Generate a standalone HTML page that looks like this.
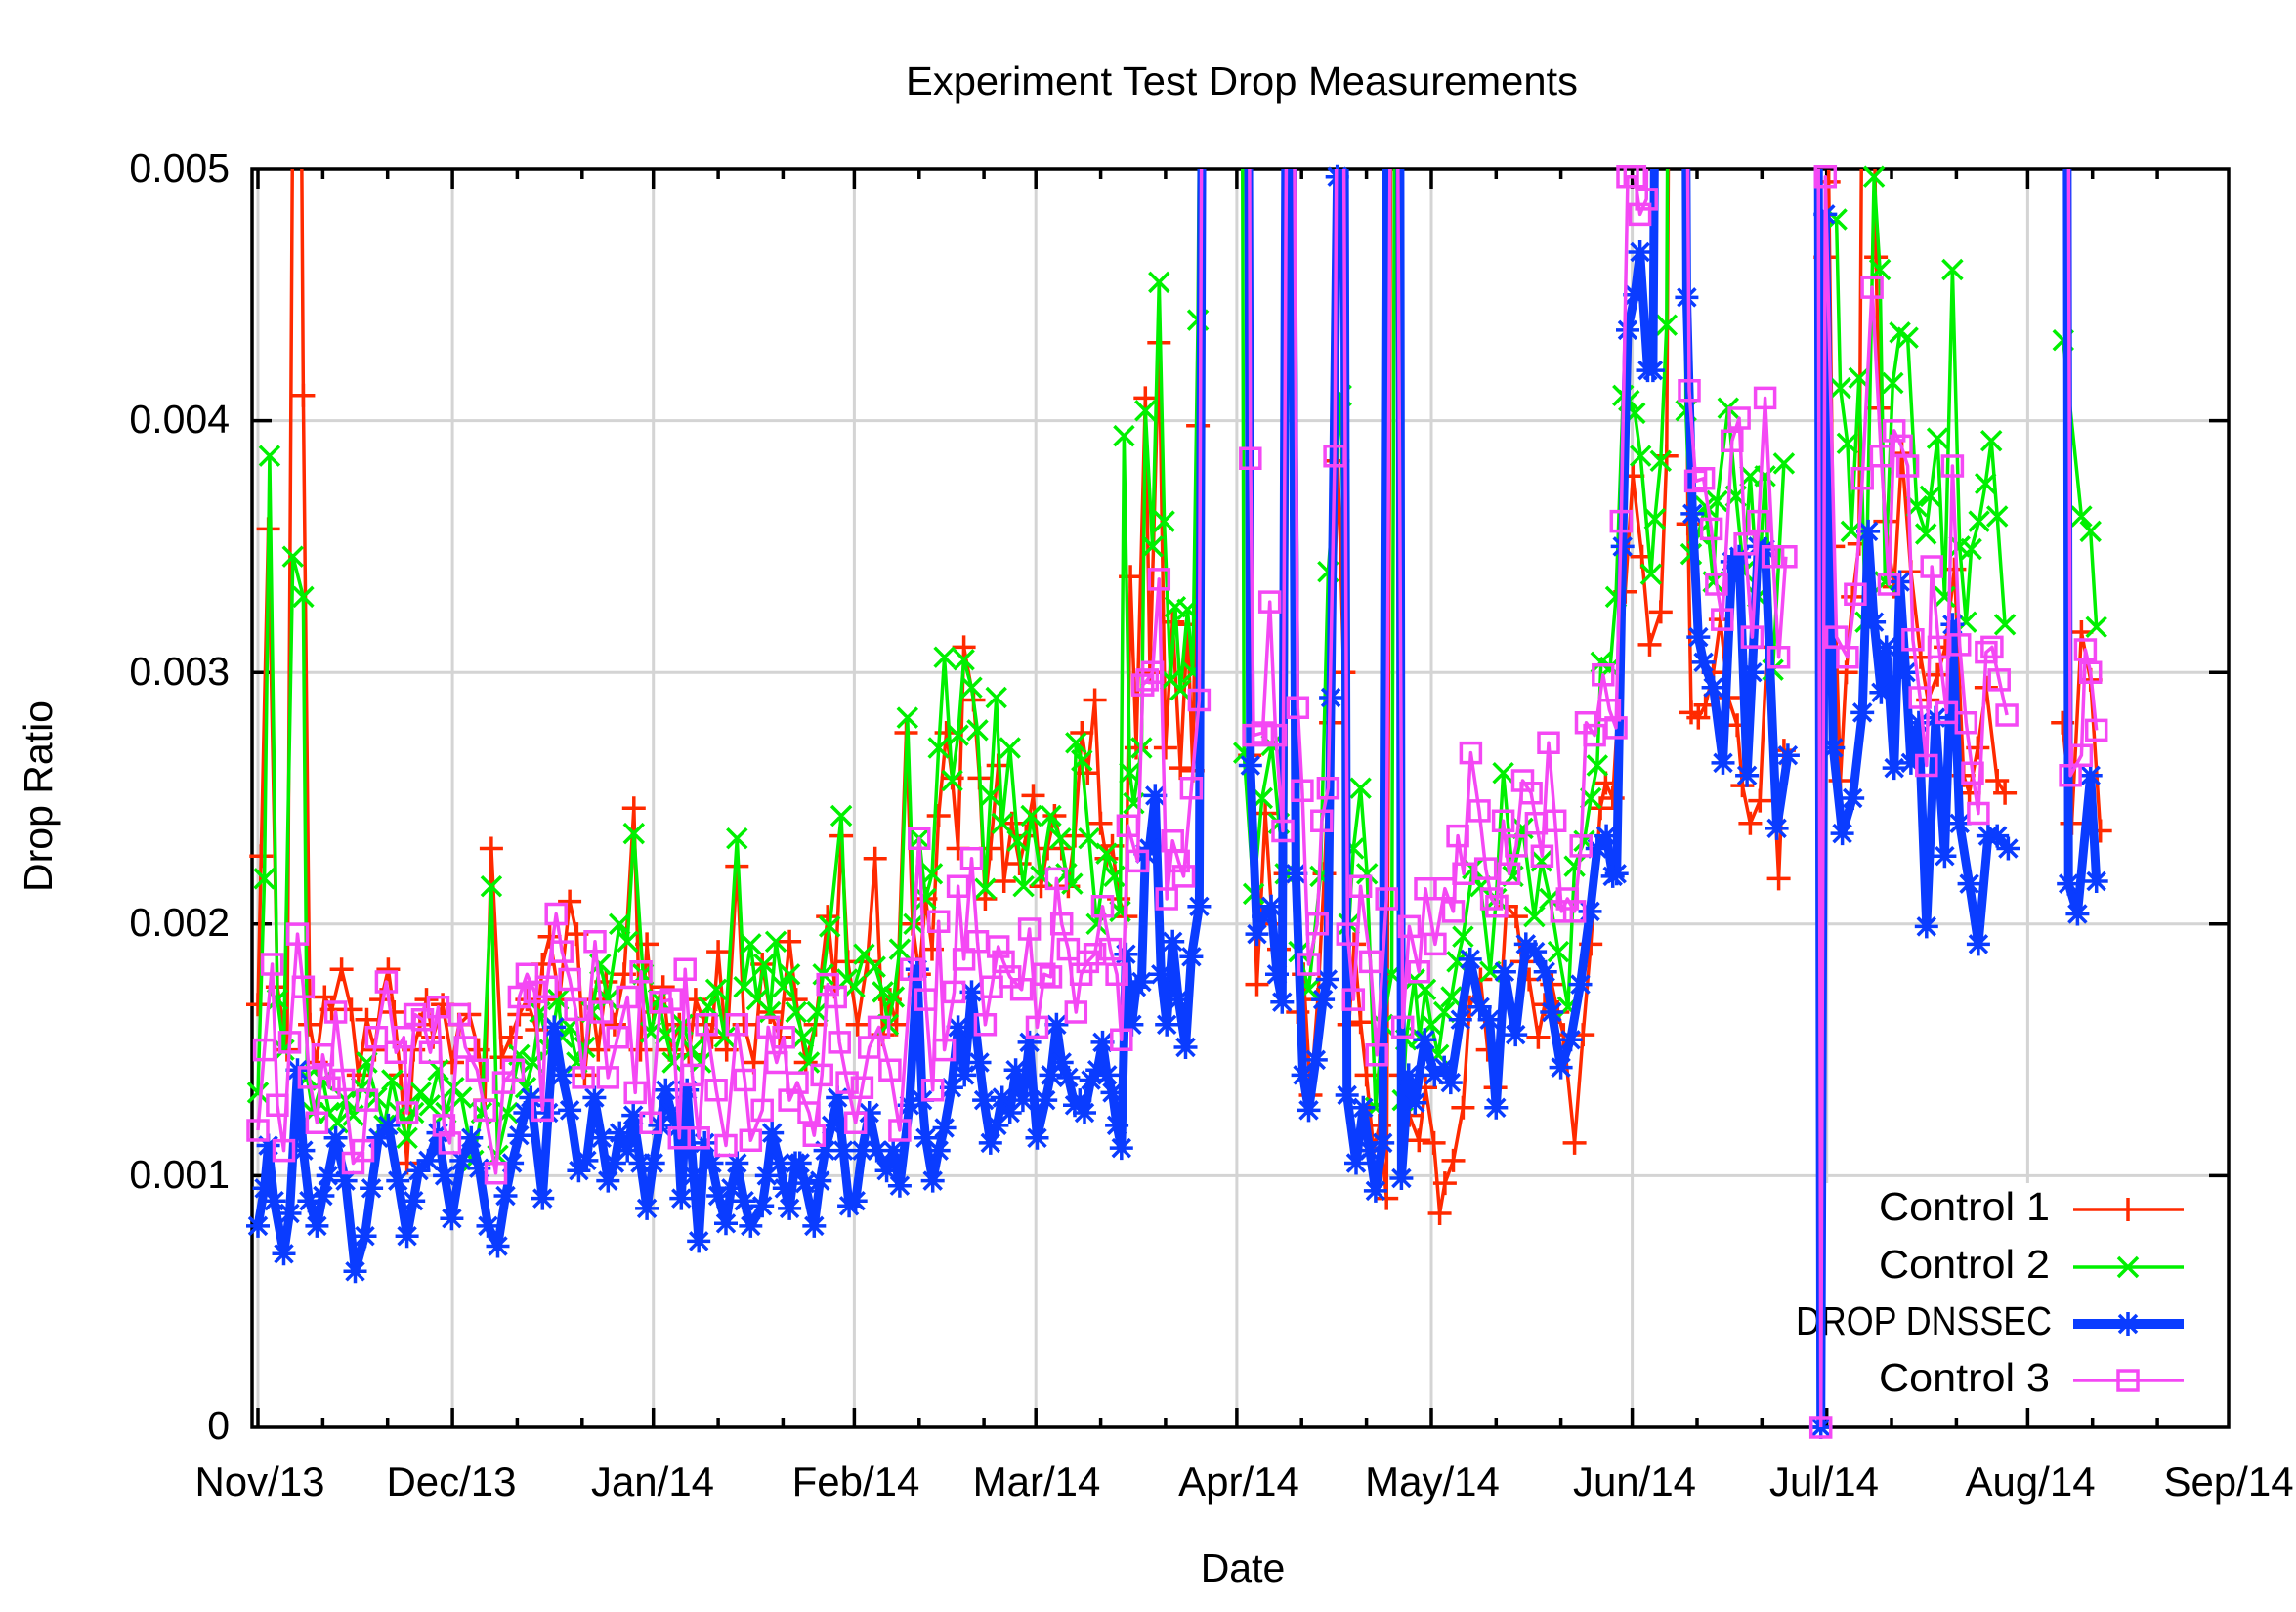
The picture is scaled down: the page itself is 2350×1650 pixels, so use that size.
<!DOCTYPE html>
<html>
<head>
<meta charset="utf-8">
<style>
html,body{margin:0;padding:0;background:#fff;}
svg{display:block;}
text{font-family:"Liberation Sans",Arial,sans-serif;fill:#000;}
</style>
</head>
<body>
<svg id="plot" xmlns="http://www.w3.org/2000/svg" width="2350" height="1650" viewBox="0 0 2350 1650">
<rect x="0" y="0" width="2350" height="1650" fill="#fff"/>
<defs>
<clipPath id="clip"><rect x="258" y="173" width="2023" height="1288"/></clipPath>
</defs>
<!-- grid -->
<g stroke="#d4d4d4" stroke-width="3" fill="none">
<path d="M264 193V1441 M463.1 193V1441 M668.7 193V1441 M874.4 193V1441 M1060.2 193V1441 M1265.9 193V1441 M1465 193V1441 M1670.6 193V1441 M1869.7 193V1441 M2075.4 193V1441"/>
<path d="M278 430.6H2261 M278 688.2H2261 M278 945.8H2261 M278 1203.4H2261"/>
</g>
<!-- legend background -->
<rect x="1822" y="1211" width="440" height="231" fill="#fff"/>
<!-- border -->
<rect x="258" y="173" width="2023" height="1288" fill="none" stroke="#000" stroke-width="3.5"/>
<!-- ticks -->
<g stroke="#000" stroke-width="3.5" fill="none">
<path d="M264 1461V1441 M463.1 1461V1441 M668.7 1461V1441 M874.4 1461V1441 M1060.2 1461V1441 M1265.9 1461V1441 M1465 1461V1441 M1670.6 1461V1441 M1869.7 1461V1441 M2075.4 1461V1441
M264 173V193 M463.1 173V193 M668.7 173V193 M874.4 173V193 M1060.2 173V193 M1265.9 173V193 M1465 173V193 M1670.6 173V193 M1869.7 173V193 M2075.4 173V193"/>
<path d="M330.4 1461V1451 M396.7 1461V1451 M529.4 1461V1451 M595.8 1461V1451 M735.1 1461V1451 M801.4 1461V1451 M940.8 1461V1451 M1007.1 1461V1451 M1126.6 1461V1451 M1192.9 1461V1451 M1332.2 1461V1451 M1398.6 1461V1451 M1531.3 1461V1451 M1597.6 1461V1451 M1737 1461V1451 M1803.3 1461V1451 M1936 1461V1451 M2002.4 1461V1451 M2141.7 1461V1451 M2208.1 1461V1451
M330.4 173V183 M396.7 173V183 M529.4 173V183 M595.8 173V183 M735.1 173V183 M801.4 173V183 M940.8 173V183 M1007.1 173V183 M1126.6 173V183 M1192.9 173V183 M1332.2 173V183 M1398.6 173V183 M1531.3 173V183 M1597.6 173V183 M1737 173V183 M1803.3 173V183 M1936 173V183 M2002.4 173V183 M2141.7 173V183 M2208.1 173V183"/>
<path d="M258 430.6H278 M258 688.2H278 M258 945.8H278 M258 1203.4H278 M2281 430.6H2261 M2281 688.2H2261 M2281 945.8H2261 M2281 1203.4H2261"/>
</g>
<!-- y tick labels -->
<g font-size="41" text-anchor="end">
<text x="235" y="186">0.005</text>
<text x="235" y="443">0.004</text>
<text x="235" y="701">0.003</text>
<text x="235" y="958">0.002</text>
<text x="235" y="1216">0.001</text>
<text x="235" y="1473">0</text>
</g>
<!-- x tick labels -->
<g font-size="42" text-anchor="middle">
<text x="266" y="1531">Nov/13</text>
<text x="462" y="1531">Dec/13</text>
<text x="668" y="1531">Jan/14</text>
<text x="876" y="1531">Feb/14</text>
<text x="1061" y="1531">Mar/14</text>
<text x="1268" y="1531">Apr/14</text>
<text x="1466" y="1531">May/14</text>
<text x="1673" y="1531">Jun/14</text>
<text x="1867" y="1531">Jul/14</text>
<text x="2078" y="1531">Aug/14</text>
<text x="2281" y="1531">Sep/14</text>
</g>
<!-- titles -->
<text x="1271" y="97" font-size="41" text-anchor="middle" textLength="688" lengthAdjust="spacingAndGlyphs">Experiment Test Drop Measurements</text>
<text x="1272" y="1619" font-size="41" text-anchor="middle">Date</text>
<text transform="translate(53,815) rotate(-90)" font-size="41" text-anchor="middle">Drop Ratio</text>
<!-- legend -->
<g font-size="41" text-anchor="end">
<text x="2098" y="1249" textLength="175" lengthAdjust="spacingAndGlyphs">Control 1</text>
<text x="2098" y="1308" textLength="175" lengthAdjust="spacingAndGlyphs">Control 2</text>
<text x="2100" y="1366" textLength="262" lengthAdjust="spacingAndGlyphs">DROP DNSSEC</text>
<text x="2098" y="1424" textLength="175" lengthAdjust="spacingAndGlyphs">Control 3</text>
</g>
<g fill="none">
<path d="M2122 1238H2235" stroke="#ff2a00" stroke-width="3.5"/>
<path d="M2178 1226V1250" stroke="#ff2a00" stroke-width="3.5"/>
<path d="M2122 1297H2235" stroke="#00f000" stroke-width="3.5"/>
<path d="M2168 1287L2188 1307M2168 1307L2188 1287" stroke="#00f000" stroke-width="3.5"/>
<path d="M2122 1355H2235" stroke="#0a3cff" stroke-width="10"/>
<path d="M2166 1355H2190M2178 1343V1367M2169 1346L2187 1364M2169 1364L2187 1346" stroke="#0a3cff" stroke-width="3.5"/>
<path d="M2122 1413H2235" stroke="#f448f4" stroke-width="3.5"/>
<rect x="2168" y="1403" width="20" height="20" stroke="#f448f4" stroke-width="3.5"/>
</g>
<g id="data"></g>
</svg>
<script>
(function(){
var NS='http://www.w3.org/2000/svg';
var G=document.getElementById('data');
function X(d){return 264+6.635*d;}
function Y(v){return 1461-25.76*v;}
function f(n){return n.toFixed(1);}
function plus(x,y){var a=12;return 'M'+f(x-a)+' '+f(y)+'H'+f(x+a)+'M'+f(x)+' '+f(y-a)+'V'+f(y+a);}
function cross(x,y){var a=10;return 'M'+f(x-a)+' '+f(y-a)+'L'+f(x+a)+' '+f(y+a)+'M'+f(x-a)+' '+f(y+a)+'L'+f(x+a)+' '+f(y-a);}
function star(x,y){var a=9;return plus(x,y)+'M'+f(x-a)+' '+f(y-a)+'L'+f(x+a)+' '+f(y+a)+'M'+f(x-a)+' '+f(y+a)+'L'+f(x+a)+' '+f(y-a);}
function square(x,y){var a=10;return 'M'+f(x-a)+' '+f(y-a)+'h20v20h-20Z';}
function series(segs,color,lw,mk){
  var d='';
  segs.forEach(function(s){for(var i=0;i<s.length;i+=2){d+=(i?'L':'M')+f(X(s[i]))+' '+f(Y(s[i+1]));}});
  var p=document.createElementNS(NS,'path');
  p.setAttribute('d',d);p.setAttribute('fill','none');p.setAttribute('stroke',color);
  p.setAttribute('stroke-width',lw);p.setAttribute('stroke-linejoin','round');
  p.setAttribute('clip-path','url(#clip)');
  G.appendChild(p);
  var m='';
  segs.forEach(function(s){for(var i=0;i<s.length;i+=2){var v=s[i+1];if(v<0||v>50.3)continue;m+=mk(X(s[i]),Y(v));}});
  var q=document.createElementNS(NS,'path');
  q.setAttribute('d',m);q.setAttribute('fill','none');q.setAttribute('stroke',color);q.setAttribute('stroke-width','3.5');
  G.appendChild(q);
}
var red=[[0,16.8,0.5,22.7,1.6,35.7,3,17.5,4.5,15,6,80,7,41,8,16,9,14.5,10.3,17.1,11.4,16.6,12.9,18.2,14.4,16.6,15.5,14,16.8,16.2,18,15,19,17,20.1,18.2,21,16.5,22,14,23,10.5,24,15,25,16,26,17,27,15.5,28.5,16.8,30,14.5,31,16,32.6,16.4,34,15,35,13,36,23,37.6,14.7,39,15.5,40.3,16.4,41.5,17,43,15.8,43.9,18.4,45,19.5,46.5,17,48.1,20.9,49.2,19.6,50.4,14,51.5,17,52.5,15,53.7,17.7,55,16,56.5,18,58,24.6,59,15,60,19.2,61,16.5,62.5,17.5,63.5,15,65,16,66.5,14.8,67.5,17,69,16,70,15.5,71,18.9,72.3,15,73.9,22.3,75,16,76.5,14.5,77.8,18.4,79,16.5,80.5,15.5,82,19.3,83,17,84.5,14.5,86,16,87.9,20.3,89,17.5,90,23.5,91,18.5,92.5,16,94,18.5,95.2,22.6,96.4,15.6,97.5,17,98.5,16,100,27.6,101,20,102,18,103,21,104,19,105,24.3,106.2,27.6,107.1,25.8,108,23,108.9,31,110.4,28.9,111.3,25.8,112.2,21,113,23,114.2,26.3,115.1,21.7,116.3,24,117.5,22.4,118.5,23.5,119.6,25.1,120.8,21.5,121.8,23,122.9,24.3,124,23,125,21.5,126,23.5,127.1,27.6,128,26,129.1,28.9,130,24,130.9,22.6,131.8,23.1,132.8,21,133.9,20.3,134.6,33.8,135.5,27,136.9,40.9,137.6,30,139,43.1,140,27,141.1,32,142.3,26.2,143.4,31.9,144.2,26.1,145,39.8,146,80,152.4,80,153,26.7,154.1,17.6,155.4,24.4,156.5,20,157.5,19,158.5,22,159.3,80,160.4,16.5,161.3,18,162.4,13.2,163.5,17,164.5,22,165.5,28,166.6,38.4,167.5,30,168.3,16,169.1,19.2,170.1,16.1,171,14,172.1,11,173,12,174.1,9.1,175.2,80,176.3,14,177.6,12.4,179.1,11.4,180.1,13.5,181.4,11.3,182.3,8.5,183.1,9.7,184.4,10.6,185.9,12.7,186.9,16.7,188.6,17.8,189.7,15,190.9,13.5,192.6,20.7,194.1,20.3,195,18.5,196.1,17.8,197.5,15.5,198.5,16.8,199.6,17.6,200.5,16.5,201.4,15.6,203.1,11.3,204.4,15.6,205.6,19.2,207.1,24.6,207.9,25.6,209,25,210.9,33.2,212.1,37.8,213.5,34.6,214.7,31.1,216.4,32.4,217.3,38.6,218.2,80,219.6,80,220.6,35.9,221.1,28.4,222.2,28.2,223.3,28.7,224.5,30,225.6,32.1,226.8,29,228.2,27.9,229,25.5,230.2,24,231.7,24.9,232.8,31,234.6,21.8,235.4,26.9],
[241.8,46.5,242.3,49.5,243,35,244.1,25.7,245,30,246,33,247,35.1,248.1,80,249.6,46.5,250.1,40.5,251,36,252.4,33.4,253.6,38.7,255,34,256.5,30.6,257.6,28.9,259.1,29.9,260.3,31,261.7,34.1,263.1,25.9,264,25.2,265.3,27,266.6,29.4,268.3,25.7,269.5,25.2],
[278.4,28,279.8,24,281.3,31.6,282.7,29.7,284.2,23.7]];
var green=[[0,13.3,1,21.8,1.8,38.6,3,17,4,15,5.4,34.6,7,33,7.6,13.9,8.5,12.5,10,13.8,11,12.5,12.3,12.1,13.5,13,14.7,12.4,16,13.5,16.8,14.5,18.3,13.1,19.5,12,20.7,13.8,21.8,12.5,23,11.5,24,12.5,25.1,13.3,26.5,12.8,27.8,14.2,29,12.5,30.2,13.5,31.4,13.1,33.2,10.6,34.5,12.5,36,21.5,37,10.8,38.5,12.5,40.3,14.8,41.3,13.5,42.4,14.5,43.5,16.5,45,15,46.3,17,47,15.5,48.1,15.9,49.2,14.5,50.4,15.1,51.5,16.5,52.8,18.4,54,17,55.8,20,57,19.3,58,23.6,59.4,18,60.6,15.7,61.8,17,62.9,15.6,64,14.5,65.5,16,67,15,68.3,14.5,69.5,16.7,70.7,17.4,72,15.5,73.9,23.4,75,17.5,76,19.2,77,17,78.1,18.4,79,16.5,79.9,19.3,81,17.5,82,18,83,16.5,84.1,15.5,85,14.5,86.3,16.5,87.2,18,88.2,19.9,90,24.3,90.9,17.8,92,17.5,93.5,18.8,95.2,18.3,96.4,17.3,97.2,16,98.1,17.1,99,19,100.2,28.2,101.2,20,102,23.4,103,21,104,22,105,27,105.9,30.6,107.1,25.7,108,27.5,108.9,30.5,110.1,29.4,111,27.7,112.2,21.4,113,25.1,113.9,29,114.8,24,116,27,117.2,23.3,118.1,21.5,119.3,24.3,120.8,21.9,122.3,24.3,123.8,23.4,124.7,22,125.6,21.6,126.2,27.2,127.1,26.5,128.2,23.4,129.4,20,130.9,22.8,132.1,21.9,133,20.5,133.6,39.4,134.5,26,135.1,24.8,136.3,27,136.9,40.4,138,35,139,45.5,139.8,36,140.8,29.7,141.5,32.6,142.3,29.3,143.4,32.5,144.2,30,145,44,146,80,151.6,80,152.1,26.8,153.6,21.2,154.9,25,156.4,27.1,157.5,24,158.5,22,159.3,80,160.6,18.9,162.1,17.4,163.9,21.9,165.1,34,167.1,41,168.3,20,169,23,170.1,25.4,171.1,22,172.4,12.7,173.5,16,174.9,18,175.7,80,176.6,13,177.1,15.4,178.4,17.8,179.2,15.5,180.1,17.4,181,16,182.1,14.8,183,16.5,184.1,17.1,185,18.5,185.9,19.5,187.4,22.2,188.6,21.5,190.1,18.1,191,21,192.1,26,193.6,21.9,195.1,23.8,196.9,20.3,198,22.5,199.3,21,200.6,18.9,202.1,16.7,203.1,22.3,204.6,23.3,205.6,25,206.6,26.3,207.2,30.4,208.6,30.2,209.5,33,210.6,41,211.5,40.8,212.4,40.3,213.3,38.6,214.9,33.9,215.5,36.1,216.4,38.4,217.3,43.8,218,80,219.8,80,220.3,40.4,221.1,34.7,222.2,35.5,223.3,36.6,224.5,33.6,225.1,36.8,226.8,40.5,228,37,229.2,34,230.2,37.8,231.4,33,232.5,37.8,233.7,30.1,235.4,38.3],
[243.5,48,244.1,41.3,245.2,39.1,245.8,35.6,247,41.7,248,32,249.3,49.7,250.2,46,251,33.6,252.2,41.5,253.3,43.5,254.5,43.3,255.9,36.6,257.3,35.5,258,37,259.1,39.3,260.2,33,261.4,46,262.5,35,263.5,32,264.3,34.9,265.5,36,266.5,37.5,267.4,39.2,268.3,36.2,269.5,31.9],
[278.5,43.2,281.3,36.2,282.7,35.6,283.6,31.8]];
var blue=[[0,8,1,9.5,1.6,11.2,2.5,9,4,6.9,4.9,8.5,6.1,14.2,7,11,7.9,9,9.1,8,10,9.2,10.8,10,12,11.5,13.5,9.8,15,6.2,16.5,7.6,17.5,9.5,18.6,11.5,20.1,12,21.6,9.8,23,7.6,24,9,24.8,10.2,26.3,10.6,27.8,11.7,28.8,10,29.9,8.3,31.4,10.6,32.9,11.5,34.1,10.3,35.5,8,37,7.2,38.2,9.2,39.2,10.5,40.3,11.6,41.2,12.5,42.1,13.1,43.9,9.1,44.8,12.5,45.7,15.9,46.9,14,48.1,12.6,49.5,10.2,50.7,10.6,51.9,13.1,53,11.5,54,9.8,55,10.5,55.8,11.7,57,11,57.9,12.4,59,10.5,60,8.7,61,10.5,62,12,62.9,13.4,63.8,12.5,64.7,11.9,65.3,9.1,66.2,13.4,67.2,10,68,7.4,68.9,11.3,70,10.5,71,9.2,72.2,8.1,73,9.5,73.9,10.5,75,9,76,8,77.8,8.8,78.5,10,79.3,11.7,80.5,10.5,81.2,9.5,82,8.7,82.9,10.5,83.6,10.5,84.4,9.7,85.8,8,86.7,9.8,87.5,11,88.5,12,89.4,13.1,90.3,11,91.2,8.8,92.2,9,93.2,11,94.3,12.5,95.5,11,97,10.2,98,11,99,9.6,100.5,12.8,101.7,18.2,102.5,13,103,11.5,104.1,9.8,105,11,105.9,11.9,107,13.5,108,15.9,109,14,110.1,17.3,111.3,14.5,112,13,113,11.3,114,12,114.8,13.1,116,12.5,116.9,14.2,118,13,119,15.3,120.2,11.5,121.5,13,122.3,14,123.2,16,124,14.5,125,13.9,126,12.8,126.8,13,127.5,12.5,128.5,13.8,129.5,14.2,130.3,15.3,131,14,131.8,13.3,132.5,12,133.2,11.1,133.9,18.8,134.8,16,135.5,17.5,136.3,17.7,136.9,22.8,137.5,23,138.4,25.1,139.3,18,140.2,16,141.1,19.3,142,17,143.1,15.1,144,18.7,145.2,20.7,146,80,152.5,80,153.1,26.3,154.1,19.6,155.1,20.3,156.3,20.7,157.2,18,158,16.9,159,80,160.1,22,161.2,14,162.1,12.6,163.2,14.6,164.3,17,165,17.8,165.5,29,166.5,49.7,167.3,80,168,13.2,169.4,10.5,170.5,12.7,171.5,11,172.4,9.4,173.5,11.3,174.5,80,176,80,176.4,9.9,177.5,14,178.5,12.9,180,15.4,181.5,14,183,14.3,184,13.7,185.5,16.2,187,18.6,188.5,16.7,190,16.2,191,12.7,192.3,18.1,194,15.6,195.6,19.2,197,18.9,198.6,18.1,199.6,16.5,201,14.3,202.5,15.4,204,17.6,205.5,20.5,206.6,23,208,23.5,209,21.9,209.6,22,210.5,35,211.3,43.6,212.4,45,213.2,46.7,214.4,42,215.2,42,216.2,80,219.8,80,220.4,44.9,221.3,36.3,222.2,31.4,223,30.4,224.5,29.4,226,26.4,227.4,34.4,228.5,34.6,229.7,25.9,230.5,30,231.4,35,232.5,34.9,234.3,23.8,236,26.7],
[240.5,80,241.1,0,241.8,48.2,243,27,244.4,23.6,246,25,247.5,28.4,248.4,35.6,249.3,32,250.4,29.2,251.2,31,252.4,26.2,253.3,33.6,254.2,30,255,26.4,256.2,28,257.4,19.9,258.8,28.2,260.2,22.7,261.4,31.9,262.5,24,264,21.6,265.4,19.2,266.9,23.5,268.3,23.5,270,23],
[278.9,80,279.3,21.6,280.7,20.4,282.7,25.9,283.6,21.7]];
var pink=[[0,11.8,1,15,2.2,18.4,3,12.8,4,11,4.9,15.3,6.1,19.6,7,17.5,7.9,13.9,9.1,12.1,10,14.8,11,13.5,12,16.5,13.2,13.8,14.7,10.5,16.2,11,16.8,13,18.3,15.5,19.8,17.7,21.3,14.9,22.5,15.5,23,12.5,24.2,16.4,25.4,16.2,26.6,14.9,27.8,16.7,28.7,12,29.6,11.3,31.1,16.4,32,15.1,33.8,14.2,35,12.6,36.7,10.1,37.9,13.7,39.4,14.2,40.3,17.1,41.5,18,42.7,17.3,43.9,12.6,44.5,17.5,46,20.4,46.9,18.9,48.1,17.8,49,16.6,50.2,13.9,52,19.3,53,16.5,54,13.9,55.5,15.5,57,17.1,58.2,13.3,59.1,18.1,60.6,12.1,62.1,16.9,63.8,17,65,11.5,65.9,18.2,67,14,68,11.5,69.2,16,70.7,13.4,72.2,11.2,73.9,16,75.1,13.8,76,11.4,77.8,12.6,78.7,15.9,80,14.5,81.1,15.5,82,13,83.2,13.7,85,12.5,85.8,11.6,87,14,87.9,17.6,89.1,17.1,89.7,15.3,90.9,13.7,92.2,12.1,93.2,13.5,94.3,15.1,95.8,15.9,97.5,14.2,99,11.8,100.8,18.2,102,23.4,103,17,104.1,13.4,105,20.1,105.9,15,107.4,17.3,108,21.5,108.9,18.6,110.1,22.6,111,19.3,112.2,16,113.2,17.5,114.2,19.1,115,18.5,116,17.9,117.8,17.4,119,19.8,120.2,15.9,121.3,18,122.3,17.9,123.2,21.8,124,20,125,19,126.2,16.5,127,18,128,18.5,129.1,18.8,130.3,20.7,131.5,19,132.5,18,133.2,15.4,134.2,23.9,135.7,22.5,136.5,29.5,137.2,29.7,138,30,139,33.7,140.2,21,141.1,23.3,142,22.5,142.8,21.9,144,25.4,145.2,28.9,146,80,152.6,80,153.1,38.5,153.6,27.5,155,27.6,156.1,32.8,157,27.5,158.1,23.7,159.2,80,160.4,28.6,161.1,25.3,162.1,18.4,163.4,20,164.1,24.1,165.1,25.4,166.1,38.6,167,80,168.1,19.6,169,17,170.1,21.5,171.6,18.5,172.6,14.8,174.1,21,175.2,80,176.6,15.9,177.6,19.9,179.1,18.1,180.1,21.4,181.6,19.2,183.1,21.4,184.4,20.5,185.1,23.5,186,22,187.1,26.8,188.4,24.5,189.4,22.2,190.3,21,191.1,20.7,192.1,24.1,193,22,194.1,23.1,195.1,25.7,196.4,25.2,197.2,24,198.1,22.7,199.1,27.2,200.1,24.1,201.1,20.5,202,21,203.1,20.5,204.1,23.1,204.9,28,206.2,27.5,207.5,29.9,208.5,28.5,209.5,27.8,210.3,36,211.3,49.7,212.4,49.7,213.2,48.2,214.2,48.8,215.2,80,219.8,80,220.8,41.2,221.8,37.6,223,37.7,224.2,35.7,225,33.5,225.9,32.1,227.4,39.2,228.5,40.1,229.4,35.1,230.5,31.4,231.5,36,232.5,40.9,233.7,34.6,234.6,30.6,235.7,34.6],
[240.5,80,241.1,0,241.8,49.7,243.5,31.4,245.2,30.6,246.4,33.1,247.5,37.7,249,45.3,250.4,38.6,251.6,33.5,252.4,39.6,253.5,39,254.5,38.2,255.3,31.3,256.4,29,257.4,26.3,258.2,34.2,259.3,31,260.5,28.4,261.4,38.2,262.5,31.1,263.5,28,264.5,26,265.4,24.4,266.6,30.8,267.5,31,268.6,29.7,269.8,28.3],
[279,80,279.6,25.9,281.3,26.7,281.9,30.9,282.7,30,283.6,27.7]];
series(red,'#ff2a00',3.5,plus);
series(green,'#00f000',3.5,cross);
series(blue,'#0a3cff',9,star);
series(pink,'#f448f4',3.5,square);
})();
</script>
</body>
</html>
